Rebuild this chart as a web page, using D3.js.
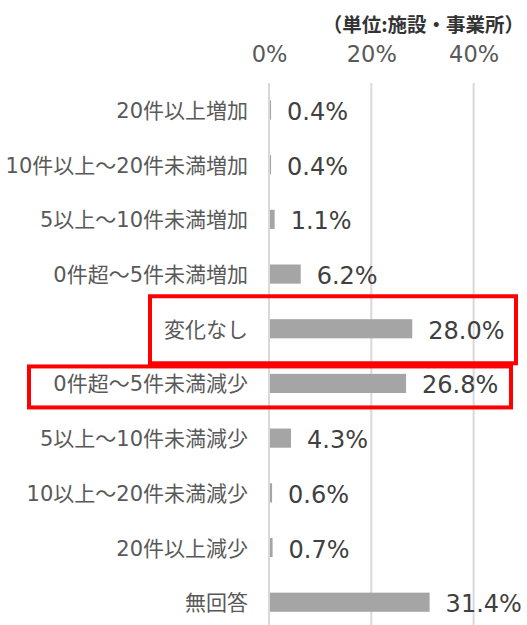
<!DOCTYPE html>
<html><head><meta charset="utf-8">
<script src="https://cdn.jsdelivr.net/npm/d3@7"></script>
<style>
html,body{margin:0;padding:0;background:#fff;}
svg{display:block;}
</style></head>
<body>
<svg id="c" width="527" height="625"></svg>
<script>
const categories = ["20件以上増加","10件以上～20件未満増加","5以上～10件未満増加","0件超～5件未満増加","変化なし","0件超～5件未満減少","5以上～10件未満減少","10以上～20件未満減少","20件以上減少","無回答"];
const values = [0.4,0.4,1.1,6.2,28.0,26.8,4.3,0.6,0.7,31.4];
const tickValues = [0,20,40];
const unitLabel = "（単位:施設・事業所）";
const highlighted = ["変化なし","0件超～5件未満減少"];

const svg = d3.select("#c");
const font = "'DejaVu Sans','Noto Sans CJK JP',sans-serif";

const x = d3.scaleLinear().domain([0,50]).range([269,524.75]);
const y = d3.scaleBand().domain(categories).range([82.65,629.55]).paddingInner(0.65).paddingOuter(0.325);

// gridlines + top axis
const axis = d3.axisTop(x).tickValues(tickValues).tickFormat(d=>d+"%").tickSize(0).tickPadding(0);
const ag = svg.append("g").attr("transform","translate(0,62)").call(axis);
ag.select(".domain").remove();
ag.selectAll("text").attr("font-family",font).attr("font-size",22.5).attr("fill","#595959").attr("dy",0);

svg.append("g").selectAll("line").data(tickValues).join("line")
  .attr("x1",d=>x(d)).attr("x2",d=>x(d)).attr("y1",83).attr("y2",629)
  .attr("stroke","#d9d9d9").attr("stroke-width",2);

// bars
svg.append("g").selectAll("rect").data(values).join("rect")
  .attr("x",x(0)+1).attr("y",(d,i)=>y(categories[i]))
  .attr("width",d=>Math.max(0,x(d)-x(0)-1)).attr("height",y.bandwidth())
  .attr("fill","#a5a5a5");

// category labels
svg.append("g").selectAll("text").data(categories).join("text")
  .attr("x",248).attr("y",d=>y(d)+y.bandwidth()/2+1)
  .attr("text-anchor","end").attr("dominant-baseline","central")
  .attr("font-family",font).attr("font-size",21).attr("fill","#595959")
  .text(d=>d);

// value labels
svg.append("g").selectAll("text").data(values).join("text")
  .attr("x",d=>x(d)+16).attr("y",(d,i)=>y(categories[i])+y.bandwidth()/2+2)
  .attr("dominant-baseline","central")
  .attr("font-family",font).attr("font-size",24).attr("fill","#404040")
  .text(d=>d.toFixed(1)+"%");

// unit label
svg.append("text").attr("x",524).attr("y",23).attr("text-anchor","end")
  .attr("dominant-baseline","central")
  .attr("font-family","'Noto Sans CJK JP',sans-serif").attr("font-size",19.5).attr("font-weight","bold")
  .attr("fill","#333").text(unitLabel);

// highlight boxes
const c0 = y(highlighted[0])+y.bandwidth()/2;
const c1 = y(highlighted[1])+y.bandwidth()/2;
svg.append("rect").attr("x",150).attr("y",c0-32.5).attr("width",366).attr("height",67)
  .attr("fill","none").attr("stroke","#ff0000").attr("stroke-width",4);
svg.append("rect").attr("x",29).attr("y",c1-17).attr("width",482).attr("height",41)
  .attr("fill","none").attr("stroke","#ff0000").attr("stroke-width",4);
</script>
</body></html>
